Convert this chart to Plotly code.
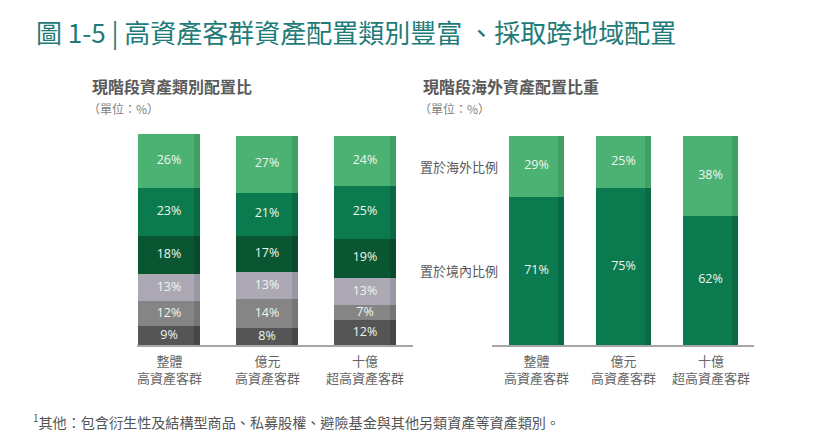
import plotly.graph_objects as go

# data ---------------------------------------------------------------
groups = ["整體<br>高資產客群", "億元<br>高資產客群", "十億<br>超高資產客群"]

asset_names = ["其他¹", "保險", "債券", "房地產", "股票", "存款"]
asset_vals = {
    "其他¹": [9, 8, 12],
    "保險": [12, 14, 7],
    "債券": [13, 13, 13],
    "房地產": [18, 17, 19],
    "股票": [23, 21, 25],
    "存款": [26, 27, 24],
}
asset_colors = ["#555555", "#858585", "#aca8b4", "#0a5632", "#0b7b4f", "#4cb273"]
asset_edge = ["#474747", "#767676", "#9a96a3", "#084a2b", "#096a44", "#41a064"]

region_names = ["置於境內比例", "置於海外比例"]
region_vals = {
    "置於境內比例": [71, 75, 62],
    "置於海外比例": [29, 25, 38],
}
region_colors = ["#0b7b4f", "#4cb273"]
region_edge = ["#096a44", "#41a064"]

FONT = "Noto Sans CJK TC"
NUM_FONT = "Open Sans"
GRAY = "#595959"

# page body margin of the html page, figure is drawn inside it
OFF = 8
W, H = 825 - 2 * OFF, 444 - 2 * OFF


def px(x):
    return (x - OFF) / W


def py(y):
    return 1 - (y - OFF) / H


# figure -------------------------------------------------------------
fig = go.Figure()
xs = [0, 1, 2]


def add_stack(names, vals, colors, edges, xa, ya, xa2, ya2):
    cums = [0, 0, 0]
    for name, col, edge in zip(names, colors, edges):
        fig.add_bar(
            x=xs, y=vals[name], name=name, xaxis=xa, yaxis=ya,
            marker=dict(color=col, line=dict(width=0)),
            width=0.63, offset=-0.315, textposition="none",
            hoverinfo="skip", showlegend=False,
        )
        # darker strip on the right edge of each bar
        fig.add_bar(
            x=xs, y=vals[name], xaxis=xa2, yaxis=ya2,
            marker=dict(color=edge, line=dict(width=0)),
            width=0.065, offset=0.25,
            hoverinfo="skip", showlegend=False,
        )
        mids = [c + v / 2 for c, v in zip(cums, vals[name])]
        fig.add_scatter(
            x=xs, y=mids, xaxis=xa, yaxis=ya, mode="text",
            text=[f"{v}%" for v in vals[name]], textposition="middle center",
            textfont=dict(family=NUM_FONT, size=12.5, color="#eef7f1"),
            hoverinfo="skip", showlegend=False, cliponaxis=False,
        )
        # row labels beside first bar, at segment centres
        fig.add_annotation(
            x=-0.42, y=mids[0], xref=xa, yref=ya,
            text=name, showarrow=False, xanchor="right",
            font=dict(family=FONT, size=13, color=GRAY),
        )
        cums = [c + v for c, v in zip(cums, vals[name])]
    # category labels under the axis
    for x, g in zip(xs, groups):
        fig.add_annotation(
            x=x, y=py(368.5), xref=xa, yref="paper", text=g,
            showarrow=False, yanchor="middle",
            font=dict(family=FONT, size=13, color="#666666"),
        )


add_stack(asset_names, asset_vals, asset_colors, asset_edge, "x", "y", "x3", "y3")
add_stack(region_names, region_vals, region_colors, region_edge, "x2", "y2", "x4", "y4")

ydom = [py(345), py(133.9)]
x1dom = [px(169 - 0.33 * 98), px(169 + 2.49 * 98)]
x2dom = [px(536.5 - 0.51 * 87), px(536.5 + 2.5 * 87)]
xr1 = [-0.33, 2.49]
xr2 = [-0.51, 2.5]

xcommon = dict(
    showticklabels=False, showgrid=False, zeroline=False,
    showline=True, linecolor="#a6a6a6", linewidth=2, ticks="",
)
hidden = dict(visible=False, showgrid=False, zeroline=False)

fig.update_layout(
    width=W, height=H, barmode="stack", bargap=0,
    margin=dict(l=0, r=0, t=0, b=0),
    paper_bgcolor="white", plot_bgcolor="white",
    xaxis=dict(domain=x1dom, range=xr1, anchor="y", **xcommon),
    yaxis=dict(domain=ydom, range=[0, 101], anchor="x", **hidden),
    xaxis2=dict(domain=x2dom, range=xr2, anchor="y2", **xcommon),
    yaxis2=dict(domain=ydom, range=[0, 101], anchor="x2", **hidden),
    xaxis3=dict(domain=x1dom, range=xr1, overlaying="x", anchor="y3", **hidden),
    yaxis3=dict(domain=ydom, range=[0, 101], overlaying="y", anchor="x3", **hidden),
    xaxis4=dict(domain=x2dom, range=xr2, overlaying="x2", anchor="y4", **hidden),
    yaxis4=dict(domain=ydom, range=[0, 101], overlaying="y2", anchor="x4", **hidden),
)


# titles and notes ----------------------------------------------------
def txt(x, y, s, size, color, bold=False):
    fig.add_annotation(
        x=px(x), y=py(y), xref="paper", yref="paper",
        text=f"<b>{s}</b>" if bold else s, showarrow=False,
        xanchor="left", yanchor="middle",
        font=dict(family=FONT, size=size, color=color),
    )


txt(34, 32, "圖 1-5 | 高資產客群資產配置類別豐富 、採取跨地域配置", 26, "#1e7b78")
txt(90, 86, "現階段資產類別配置比", 16, "#5a5a5a", bold=True)
txt(86, 108, "（單位：%）", 12, "#808080")
txt(421, 86, "現階段海外資產配置比重", 16, "#5a5a5a", bold=True)
txt(417, 108, "（單位：%）", 12, "#808080")
txt(31, 421, "<sup>1</sup>其他：包含衍生性及結構型商品、私募股權、避險基金與其他另類資產等資產類別。",
    14.1, "#555555")

fig.write_html("out.html")
